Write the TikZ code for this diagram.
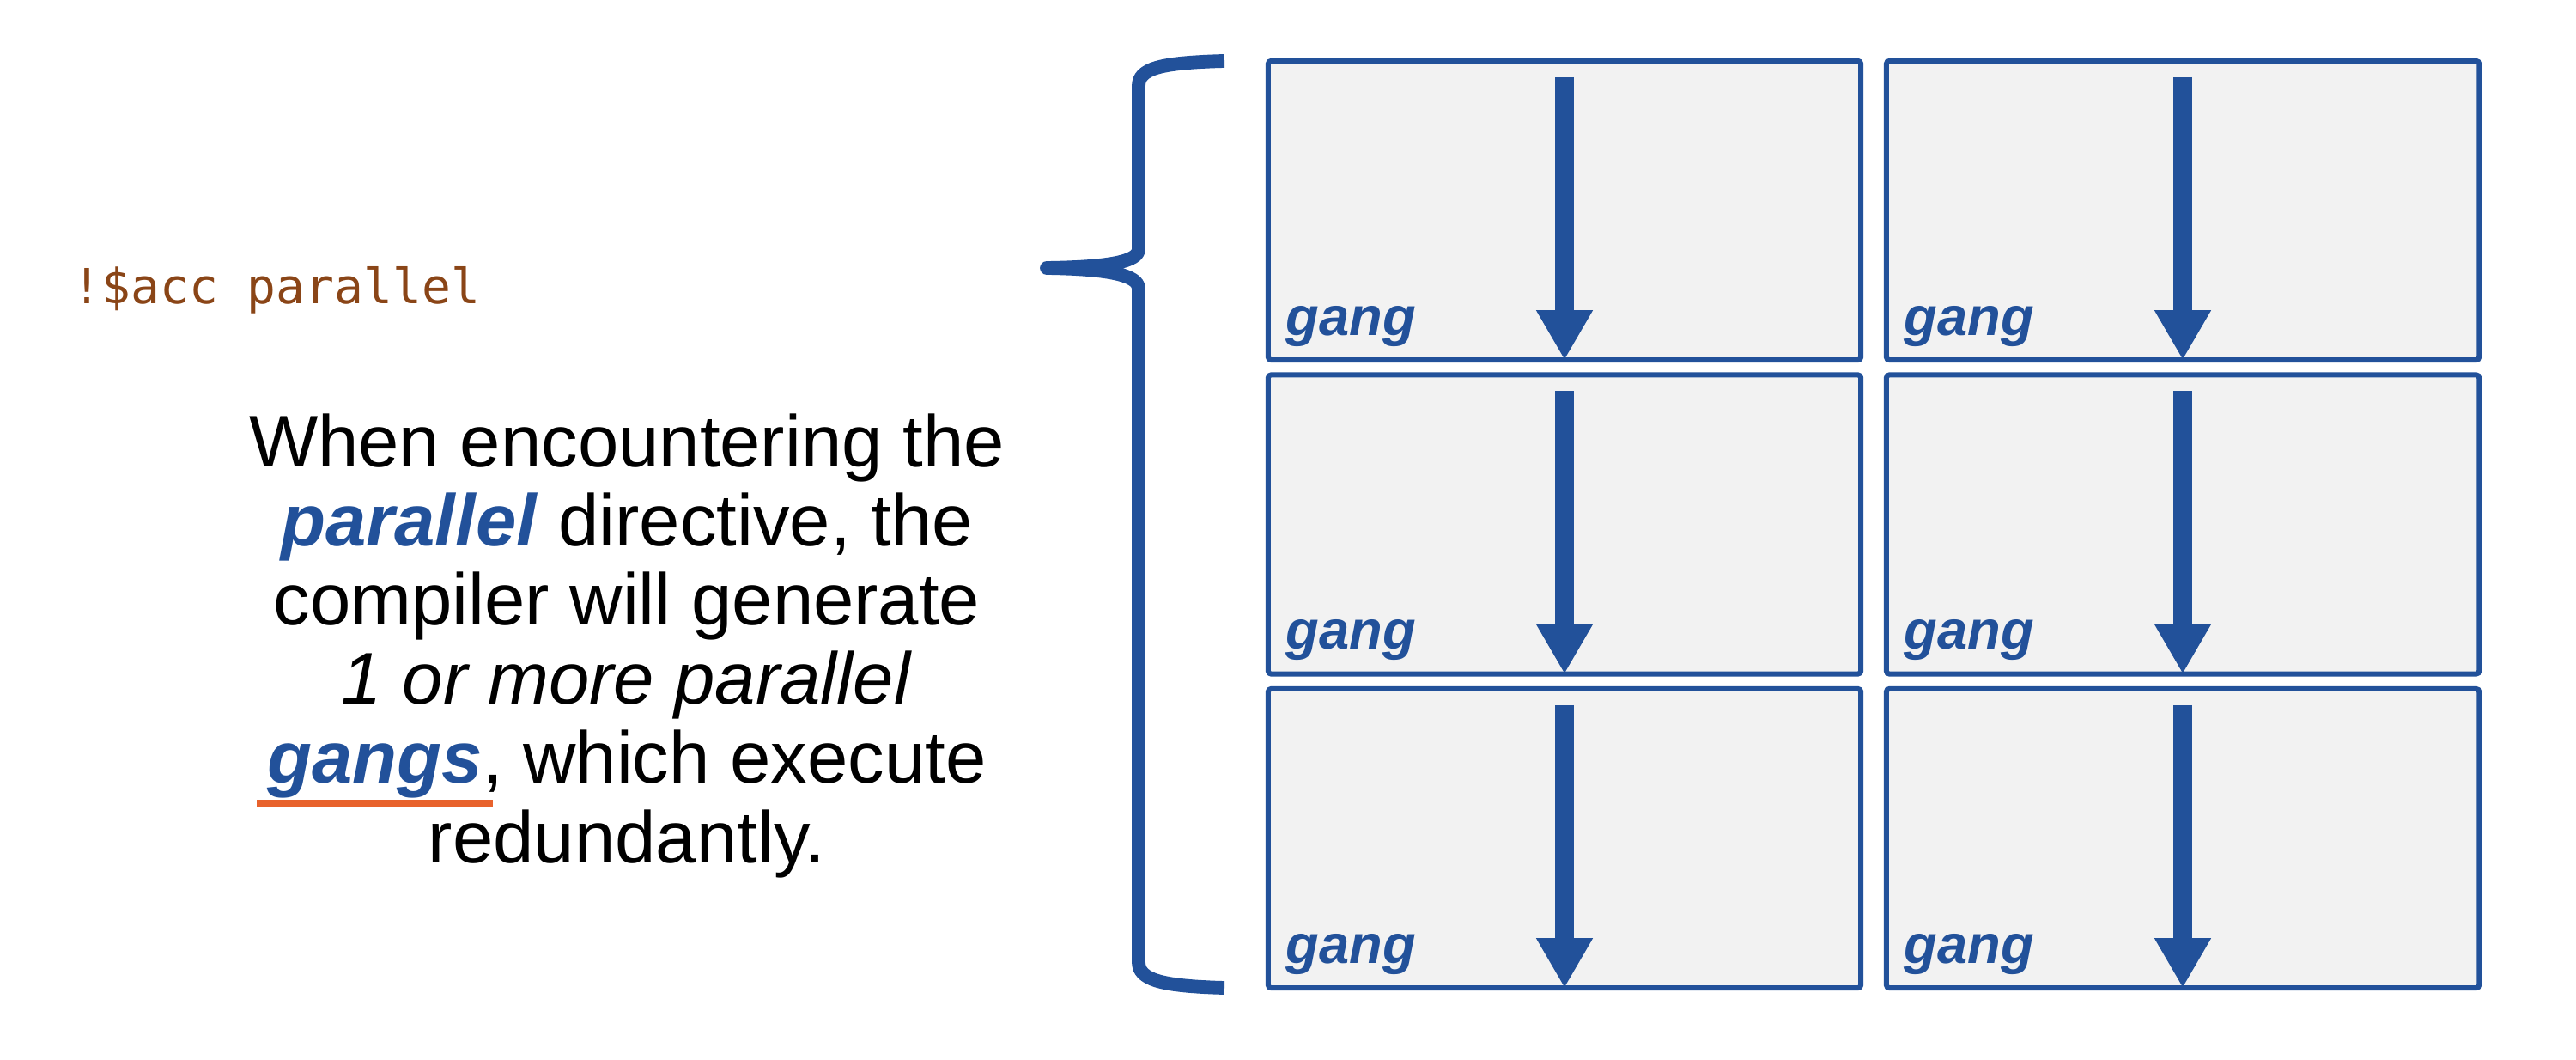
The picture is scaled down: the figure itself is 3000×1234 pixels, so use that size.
\documentclass[tikz,border=0pt]{standalone}
\usepackage{fontspec}
\setmainfont{Liberation Sans}
\setmonofont{DejaVu Sans Mono}
\usepackage{tikz}
\usetikzlibrary{arrows.meta}
\definecolor{gangblue}{HTML}{22519A}
\definecolor{ganggrey}{HTML}{F2F2F2}
\definecolor{codebrown}{HTML}{8A4517}
\definecolor{ulorange}{HTML}{E8622C}
\newcommand{\orangeul}[1]{\setbox0\hbox{#1}\hbox to 0pt{\kern-0.14em\color{ulorange}\rule[-0.33em]{\dimexpr\wd0+0.28em\relax}{0.11em}\hss}\box0}

\begin{document}
\begin{tikzpicture}[x=0.01cm,y=-0.01cm,
  gangbox/.style={draw=gangblue,fill=ganggrey,line width=1.7pt,rounded corners=1pt,
    minimum width=6.9cm,minimum height=3.48cm,inner sep=0pt,outer sep=0pt},
  ganglabel/.style={anchor=base west,inner sep=0pt,text=gangblue,
    font=\fontsize{18}{20}\selectfont\bfseries\itshape},
  gangarrow/.style={draw=gangblue,line width=6pt,
    -{Triangle[width=17.6pt,length=16.5pt]}},
  bracestyle/.style={draw=gangblue,line width=4.5pt,line join=round}]
\useasboundingbox (0,0) rectangle (3000,1234);

\node[anchor=base west,inner sep=0pt,text=codebrown,font=\ttfamily\fontsize{16}{18}\selectfont]
  (directive) at (84,354) {!\$acc parallel};

\node[anchor=north,inner sep=0pt,align=center,font=\fontsize{24.2}{26.2}\selectfont]
  (explain) at (730,481) {When encountering the\\
  \textcolor{gangblue}{\textbf{\textit{parallel}}} directive, the\\
  compiler will generate\\
  \textit{1 or more parallel}\\
  \orangeul{\textcolor{gangblue}{\textbf{\textit{gangs}}}}, which execute\\
  redundantly.};

% brace
\coordinate (BrTop) at (1426,71);
\coordinate (BrTip) at (1219,312);
\coordinate (BrBot) at (1426,1150);
\draw[bracestyle] (BrTop) .. controls (1350,73) and (1326,80) .. (1326,100)
  -- (1326,290) .. controls (1326,305) and (1290,311) .. (BrTip)
  .. controls (1290,313) and (1326,320) .. (1326,336)
  -- (1326,1120) .. controls (1326,1140) and (1350,1148) .. (BrBot);

\node[gangbox] (g11) at (1822,245) {};
\node[gangbox] (g12) at (2542,245) {};
\node[gangbox] (g21) at (1822,610.5) {};
\node[gangbox] (g22) at (2542,610.5) {};
\node[gangbox] (g31) at (1822,976) {};
\node[gangbox] (g32) at (2542,976) {};

\draw[gangarrow] (g11.north) ++(0,19) -- (g11.south);
\draw[gangarrow] (g12.north) ++(0,19) -- (g12.south);
\draw[gangarrow] (g21.north) ++(0,19) -- (g21.south);
\draw[gangarrow] (g22.north) ++(0,19) -- (g22.south);
\draw[gangarrow] (g31.north) ++(0,19) -- (g31.south);
\draw[gangarrow] (g32.north) ++(0,19) -- (g32.south);

\node[ganglabel] (l11) at ([shift={(20,-29)}]g11.south west) {gang};
\node[ganglabel] (l12) at ([shift={(20,-29)}]g12.south west) {gang};
\node[ganglabel] (l21) at ([shift={(20,-29)}]g21.south west) {gang};
\node[ganglabel] (l22) at ([shift={(20,-29)}]g22.south west) {gang};
\node[ganglabel] (l31) at ([shift={(20,-29)}]g31.south west) {gang};
\node[ganglabel] (l32) at ([shift={(20,-29)}]g32.south west) {gang};

\end{tikzpicture}
\end{document}
